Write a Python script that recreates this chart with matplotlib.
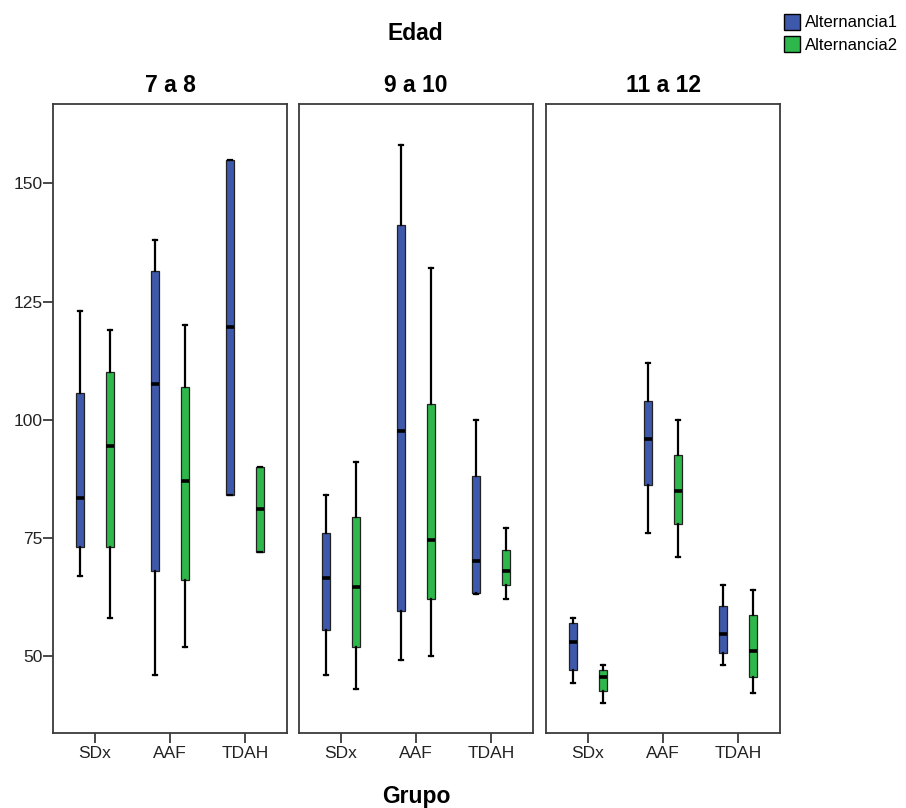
import matplotlib
matplotlib.use("Agg")
import matplotlib.pyplot as plt
from matplotlib.patches import Patch

plt.rcParams['font.family'] = ['Liberation Sans', 'DejaVu Sans']

groups = ["SDx", "AAF", "TDAH"]
panels = ["7 a 8", "9 a 10", "11 a 12"]
series = ["Alternancia1", "Alternancia2"]
colors = ["#3E58AC", "#2EB84B"]
yticks = [50, 75, 100, 125, 150]

# per panel, per group: (whislo, q1, med, q3, whishi)
alt1 = {
    "7 a 8":   [(67, 73, 83.5, 105.6, 123), (46, 68, 107.6, 131.5, 138), (84, 84, 119.6, 155, 155)],
    "9 a 10":  [(46, 55.5, 66.6, 76, 84), (49.2, 59.5, 97.6, 141.3, 158.2), (63.1, 63.4, 70, 88, 100)],
    "11 a 12": [(44.2, 47, 53, 57, 58.1), (76, 86.2, 96, 104, 112), (48.1, 50.6, 54.6, 60.6, 65)],
}
alt2 = {
    "7 a 8":   [(58, 73, 94.5, 110, 119), (52, 66, 87, 107, 120), (72, 72, 81, 90, 90)],
    "9 a 10":  [(43, 52, 64.5, 79.5, 91), (50, 62, 74.5, 103.4, 132), (62, 65, 68, 72.4, 77)],
    "11 a 12": [(40.1, 42.5, 45.5, 47, 48.1), (71, 78, 85, 92.5, 100), (42.1, 45.6, 51.1, 58.7, 64)],
}

fig = plt.figure(figsize=(9.06, 8.08), dpi=100)
W, H = 906, 808
lefts = [53, 299, 546]
pw = 234
top_px, bot_px = 104, 733
frame_col = "#3a3a3a"

def mkstats(rows):
    out = []
    for lo, q1, med, q3, hi in rows:
        out.append(dict(whislo=lo, q1=q1, med=med, q3=q3, whishi=hi, fliers=[]))
    return out

for i, p in enumerate(panels):
    ax = fig.add_axes([lefts[i] / W, 1 - bot_px / H, pw / W, (bot_px - top_px) / H])
    for s, (data, col, off) in enumerate([(alt1, colors[0], -0.2), (alt2, colors[1], 0.2)]):
        pos = [k + off for k in range(len(groups))]
        ax.bxp(mkstats(data[p]), positions=pos, widths=0.115, capwidths=0.05,
               showfliers=False, patch_artist=True, manage_ticks=False,
               boxprops=dict(facecolor=col, edgecolor="#222222", linewidth=0.9),
               medianprops=dict(color="black", linewidth=2.6, solid_capstyle="butt"),
               whiskerprops=dict(color="black", linewidth=1.6),
               capprops=dict(color="black", linewidth=1.6))
    ax.set_xlim(-0.56, 2.56)
    ax.set_ylim(33.7, 166.8)
    ax.set_xticks(range(len(groups)))
    ax.set_xticklabels(groups, fontsize=12.5, color="#222222")
    ax.tick_params(axis='x', length=7, width=1.3, color=frame_col, pad=2)
    if i == 0:
        ax.set_yticks(yticks)
        ax.set_yticklabels([str(v) for v in yticks], fontsize=12.5, color="#222222")
        ax.tick_params(axis='y', length=7, width=1.3, color=frame_col, pad=0.5)
    else:
        ax.set_yticks([])
    for sp in ax.spines.values():
        sp.set_color(frame_col)
        sp.set_linewidth(1.3)
    ax.set_title(p, fontsize=16.5, fontweight="bold", pad=9)

fig.text(415 / W, 1 - 33 / H, "Edad", ha="center", va="center", fontsize=16.5, fontweight="bold")
fig.text(416 / W, 1 - 797 / H, "Grupo", ha="center", va="center", fontsize=16.5, fontweight="bold")

handles = [Patch(facecolor=c, edgecolor="black", linewidth=1.0) for c in colors]
fig.legend(handles, series, loc="upper left", bbox_to_anchor=(772 / W, 1 - 2 / H),
           frameon=False, fontsize=12, handlelength=0.95, handleheight=1.1,
           handletextpad=0.35, labelspacing=0.35, borderpad=0.2)

fig.savefig("out.png", dpi=100)
